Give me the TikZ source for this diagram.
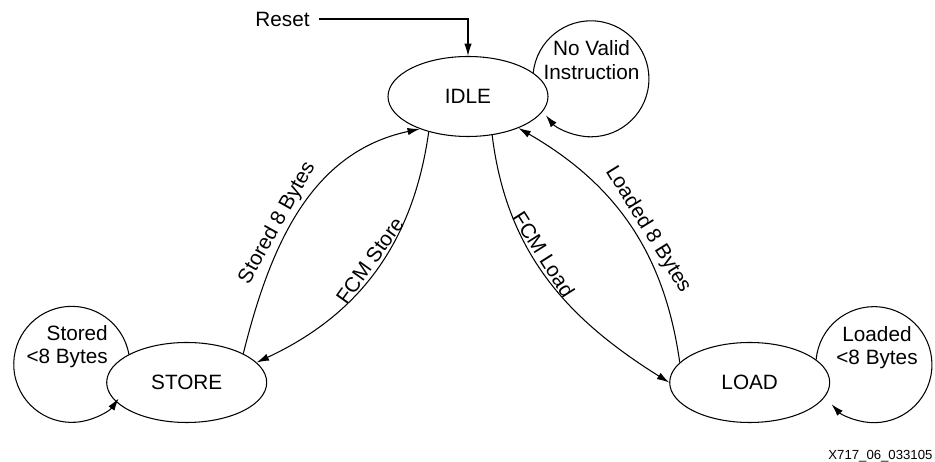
\documentclass[tikz,border=0pt]{standalone}
\usepackage{fontspec}
\setmainfont{Liberation Sans}
\usetikzlibrary{shapes.geometric,arrows.meta}

\begin{document}
\begin{tikzpicture}[line width=0.6pt, font=\fontsize{11.8}{13.3}\selectfont]
      \tikzset{
	  state/.style={ellipse, draw=black, minimum width=3.2cm, minimum height=1.6cm, inner sep=0pt},
	  loopnote/.style={align=center, inner sep=0pt},
	  trans/.style={-{Latex[length=7pt,width=4.2pt]}},
	  lbl/.style={sloped, above, inner sep=1.5pt}
      }
      \useasboundingbox (0,0) rectangle (18.7,9.24);

      \node at (9.36, 7.31) [state] (idle) {IDLE};
      \node at (3.734, 1.59) [state] (store) {STORE};
      \node at (14.994, 1.59) [state] (load) {LOAD};

      \node at (5.65, 8.86) [inner sep=5pt] (reset) {Reset};
      \draw[trans] (reset.east) -| (idle.north);

      % self loops
      \node at (11.83, 8.04) [loopnote] (novalid) {No Valid\\Instruction};
      \draw[trans] (idle.20) arc[start angle=174, end angle=-141, radius=1.16cm];
      \node at (2.166, 2.306) [loopnote, align=right, anchor=east] (storedlt) {Stored\\<8 Bytes};
      \draw[trans] (store.154) arc[start angle=10, end angle=324, radius=1.16cm];
      \node at (17.54, 2.29) [loopnote] (loadedlt) {Loaded\\<8 Bytes};
      \draw[trans] (load.19) arc[start angle=175, end angle=-137, radius=1.16cm];

      % transitions between states
      \draw[trans] (store.27) to[out=76, in=192] node[lbl, pos=0.42] {Stored 8 Bytes} (idle.214);
      \draw[trans] (idle.222) to[out=-98, in=25] node[lbl, pos=0.48] {FCM Store} (store.16);
      \draw[trans] (idle.302) to[out=-83, in=148] node[lbl, pos=0.42] {FCM Load} (load.180);
      \draw[trans] (load.164) to[out=98, in=-30] node[lbl, pos=0.45] {Loaded 8 Bytes} (idle.328);

      \node at (18.66, 0.12) [anchor=east, inner sep=0pt, font=\fontsize{7.5}{9}\selectfont] (figid) {X717\_06\_033105};
\end{tikzpicture}
\end{document}
